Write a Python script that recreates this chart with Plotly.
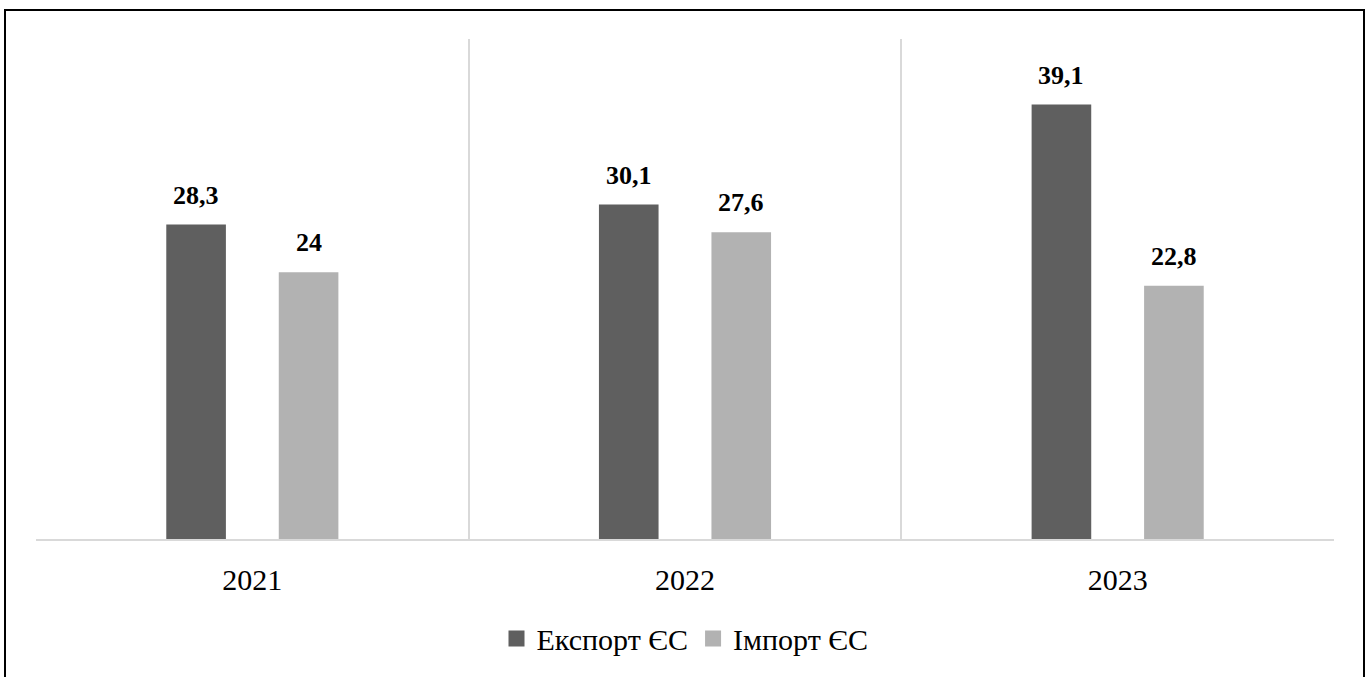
import plotly.graph_objects as go

years = ["2021", "2022", "2023"]
export_eu = [28.3, 30.1, 39.1]
import_eu = [24, 27.6, 22.8]
series_names = ["Експорт ЄС", "Імпорт ЄС"]
series_colors = ["#5f5f5f", "#b2b2b2"]

W, H = 1370, 677
ML, MR, MT, MB = 36, 36, 39, 136
BARGAP, BARGROUPGAP = 0.48, 0.47
FONT = "Liberation Serif, Times New Roman, serif"


def fmt(v):
    return f"{v:g}".replace(".", ",")


fig = go.Figure()
for name, vals, col in zip(series_names, [export_eu, import_eu], series_colors):
    fig.add_trace(go.Bar(
        x=years, y=vals, name=name, showlegend=False,
        marker=dict(color=col, line=dict(width=0)),
        hoverinfo="skip",
    ))
# legend entries with larger square swatches
for name, col in zip(series_names, series_colors):
    fig.add_trace(go.Scatter(
        x=[None], y=[None], mode="markers", name=name,
        marker=dict(symbol="square", size=16, color=col),
        hoverinfo="skip",
    ))

# value labels placed above bars (offset computed from layout params)
plot_w = W - ML - MR
cat_w = plot_w / len(years)
slot = cat_w * (1 - BARGAP) / 2
for i, vals in enumerate([export_eu, import_eu]):
    dx = (i - 0.5) * slot
    for ci, v in enumerate(vals):
        fig.add_annotation(
            x=ci, y=v, xref="x", yref="y", text=fmt(v), showarrow=False,
            xshift=dx, yshift=13, yanchor="bottom",
            font=dict(family=FONT, size=26, color="#000000", weight="bold"),
        )

plot_h = H - MT - MB
fig.add_shape(
    type="rect", xref="paper", yref="paper",
    x0=(5 - ML) / plot_w, x1=(1364 - ML) / plot_w,
    y0=(H - MB - 690) / plot_h, y1=(H - MB - 10) / plot_h,
    line=dict(color="#000000", width=2), fillcolor="rgba(0,0,0,0)", layer="above",
)

fig.update_layout(
    width=W, height=H, autosize=False,
    margin=dict(l=ML, r=MR, t=MT, b=MB, pad=0),
    paper_bgcolor="white", plot_bgcolor="white",
    barmode="group", bargap=BARGAP, bargroupgap=BARGROUPGAP,
    font=dict(family=FONT, color="#000000"),
    showlegend=True,
    legend=dict(
        orientation="h", x=0.5, xanchor="center",
        y=(H - MB - 641) / plot_h, yanchor="middle",
        font=dict(family=FONT, size=30, color="#000000"),
        itemwidth=30, tracegroupgap=0, traceorder="normal",
    ),
    xaxis=dict(
        type="category", range=[-0.5, len(years) - 0.5],
        tickson="boundaries", showgrid=True,
        gridcolor="#d9d9d9", gridwidth=1.5,
        showline=True, linecolor="#d9d9d9", linewidth=1.5,
        ticks="", ticklabelstandoff=13, tickangle=0,
        tickfont=dict(family=FONT, size=30, color="#000000"),
        fixedrange=True,
    ),
    yaxis=dict(
        range=[0, 45], showgrid=False, zeroline=False, showline=False,
        showticklabels=False, ticks="", fixedrange=True,
    ),
)

fig.write_html(
    "out.html",
    config={"displayModeBar": False},
    post_script="document.body.style.margin='0';",
)
